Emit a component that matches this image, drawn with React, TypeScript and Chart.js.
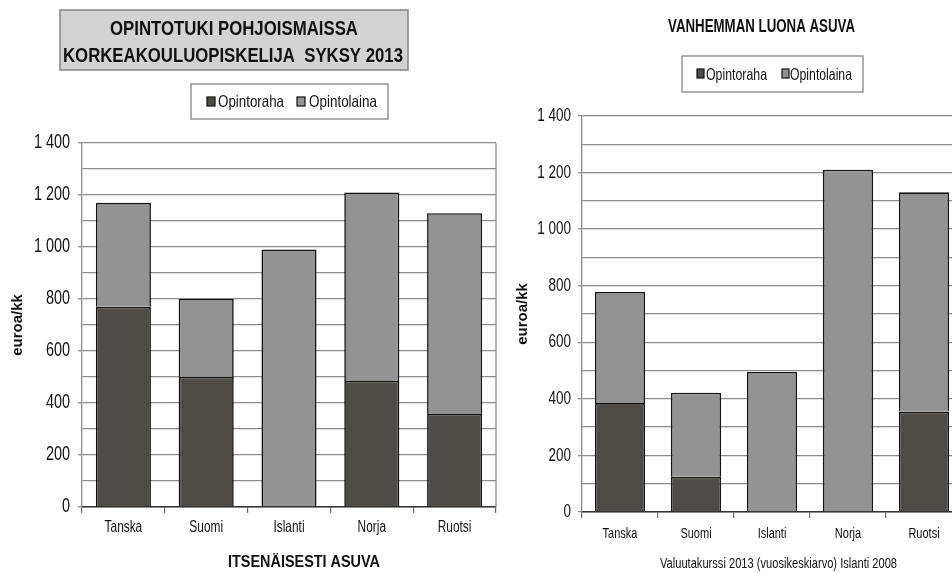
import React, { useEffect, useRef } from "react";
import { Chart, registerables } from "chart.js";
Chart.register(...registerables);

const categories = ["Tanska", "Suomi", "Islanti", "Norja", "Ruotsi"];
const seriesNames = ["Opintoraha", "Opintolaina"];
const itsenaisestiOpintoraha = [770, 500, null, 485, 358];
const itsenaisestiOpintolaina = [400, 300, 990, 725, 772];
const vanhemmanOpintoraha = [385, 125, null, null, 355];
const vanhemmanOpintolaina = [393, 297, 495, 1210, 775];
const yMax = 1400;
const yStep = 100;
const yLabelStep = 200;
const leftTitleLines = ["OPINTOTUKI POHJOISMAISSA", "KORKEAKOULUOPISKELIJA  SYKSY 2013"];
const leftXTitle = "ITSENÄISESTI ASUVA";
const rightTitle = "VANHEMMAN LUONA ASUVA";
const rightFootnote = "Valuutakurssi 2013 (vuosikeskiarvo) Islanti 2008";
const yTitle = "euroa/kk";

const DARK = "#4f4c47";
const LIGHT = "#939393";
const GRID = "#8c8c8c";
const INK = "#111111";
const SANS = '"Liberation Sans", Arial, sans-serif';

function fmt(v: number): string {
  if (v >= 1000) return Math.floor(v / 1000) + " " + String(v % 1000).padStart(3, "0");
  return String(v);
}

function squeezeText(ctx: CanvasRenderingContext2D, text: string, left: number, baseline: number, width: number, font: string) {
  ctx.save();
  ctx.font = font;
  const w = ctx.measureText(text).width;
  ctx.translate(left, baseline);
  ctx.scale(width / w, 1);
  ctx.textAlign = "left";
  ctx.textBaseline = "alphabetic";
  ctx.fillStyle = INK;
  ctx.fillText(text, 0, 0);
  ctx.restore();
}

// Draws the library's own tick labels in a condensed (horizontally squeezed) face.
function drawCondensedTicks(chart: any, o: any) {
  const ctx: CanvasRenderingContext2D = chart.ctx;
  const xs = chart.scales.x;
  const ys = chart.scales.y;
  ctx.save();
  ctx.fillStyle = INK;
  ctx.textBaseline = "middle";
  ctx.font = o.xFont + "px " + SANS;
  xs.ticks.forEach((t: any, i: number) => {
    const px = xs.getPixelForTick(i);
    ctx.save();
    ctx.translate(px, xs.top + o.xLabelOffset);
    ctx.scale(o.xSqueeze, 1);
    ctx.textAlign = "center";
    ctx.fillText(String(t.label), 0, 0);
    ctx.restore();
  });
  ctx.font = o.yFont + "px " + SANS;
  ys.ticks.forEach((t: any) => {
    if (!t.label) return;
    const py = ys.getPixelForValue(t.value);
    ctx.save();
    ctx.translate(ys.right - o.yLabelGap, py);
    ctx.scale(o.ySqueeze, 1);
    ctx.textAlign = "right";
    ctx.fillText(String(t.label), 0, 0);
    ctx.restore();
  });
  ctx.restore();
}

type LegendSpec = {
  box: [number, number, number, number];
  items: { mx: number; tx: number; tw: number }[];
  my: number;
  mw: number;
  mh: number;
  baseline: number;
  font: string;
};

function drawLegend(chart: any, spec: LegendSpec) {
  const ctx: CanvasRenderingContext2D = chart.ctx;
  const [x, y, w, h] = spec.box;
  ctx.save();
  ctx.fillStyle = "#ffffff";
  ctx.fillRect(x, y, w, h);
  ctx.strokeStyle = "#7a7a7a";
  ctx.lineWidth = 1.2;
  ctx.strokeRect(x, y, w, h);
  chart.data.datasets.forEach((ds: any, i: number) => {
    const it = spec.items[i];
    ctx.fillStyle = ds.backgroundColor;
    ctx.fillRect(it.mx, spec.my, spec.mw, spec.mh);
    ctx.strokeStyle = INK;
    ctx.lineWidth = 1.2;
    ctx.strokeRect(it.mx, spec.my, spec.mw, spec.mh);
    squeezeText(ctx, ds.label, it.tx, spec.baseline, it.tw, spec.font);
  });
  ctx.restore();
}

function drawRightBorder(chart: any) {
  const ctx: CanvasRenderingContext2D = chart.ctx;
  const a = chart.chartArea;
  ctx.save();
  ctx.strokeStyle = GRID;
  ctx.lineWidth = 1.3;
  ctx.beginPath();
  ctx.moveTo(a.right, a.top);
  ctx.lineTo(a.right, a.bottom);
  ctx.stroke();
  ctx.restore();
}

const leftDeco = {
  id: "leftDeco",
  afterDraw(chart: any) {
    const ctx: CanvasRenderingContext2D = chart.ctx;
    drawRightBorder(chart);
    drawCondensedTicks(chart, {
      xFont: 16.5,
      yFont: 19.5,
      xSqueeze: 0.72,
      ySqueeze: 0.74,
      xLabelOffset: 20,
      yLabelGap: 12,
    });
    ctx.save();
    ctx.fillStyle = "#d3d3d3";
    ctx.fillRect(60, 10, 348, 60);
    ctx.strokeStyle = "#858585";
    ctx.lineWidth = 1.5;
    ctx.strokeRect(60, 10, 348, 60);
    ctx.restore();
    squeezeText(ctx, leftTitleLines[0], 110, 35, 248, "bold 21px " + SANS);
    squeezeText(ctx, leftTitleLines[1], 63, 62, 340, "bold 21px " + SANS);
    drawLegend(chart, {
      box: [191, 84, 197, 35],
      items: [
        { mx: 207, tx: 218, tw: 66 },
        { mx: 297, tx: 309, tw: 68 },
      ],
      my: 97,
      mw: 8,
      mh: 9,
      baseline: 107,
      font: "16.5px " + SANS,
    });
    squeezeText(ctx, leftXTitle, 228, 567, 152, "bold 17px " + SANS);
  },
};

const rightDeco = {
  id: "rightDeco",
  afterDraw(chart: any) {
    const ctx: CanvasRenderingContext2D = chart.ctx;
    drawRightBorder(chart);
    drawCondensedTicks(chart, {
      xFont: 15.5,
      yFont: 18.5,
      xSqueeze: 0.71,
      ySqueeze: 0.73,
      xLabelOffset: 22,
      yLabelGap: 11,
    });
    squeezeText(ctx, rightTitle, 168, 32, 187, "bold 18px " + SANS);
    drawLegend(chart, {
      box: [182, 56, 181, 36],
      items: [
        { mx: 197, tx: 206, tw: 61 },
        { mx: 282, tx: 290, tw: 62 },
      ],
      my: 69,
      mw: 7,
      mh: 9,
      baseline: 80,
      font: "16.5px " + SANS,
    });
    squeezeText(ctx, rightFootnote, 160, 568, 237, "14.5px " + SANS);
  },
};

function makeConfig(o: any): any {
  return {
    type: "bar",
    data: {
      labels: categories,
      datasets: [
        {
          label: seriesNames[0],
          data: o.raha,
          backgroundColor: DARK,
          borderColor: INK,
          borderWidth: 1.6,
          barPercentage: o.barPct,
          categoryPercentage: 1,
        },
        {
          label: seriesNames[1],
          data: o.laina,
          backgroundColor: LIGHT,
          borderColor: INK,
          borderWidth: 1.6,
          barPercentage: o.barPct,
          categoryPercentage: 1,
        },
      ],
    },
    options: {
      responsive: false,
      animation: false,
      devicePixelRatio: 1,
      layout: { padding: o.pad },
      plugins: {
        legend: { display: false },
        tooltip: { enabled: false },
        title: { display: false },
      },
      scales: {
        x: {
          stacked: true,
          grid: {
            offset: true,
            drawOnChartArea: false,
            tickLength: 6,
            color: "#6a6a6a",
            lineWidth: 1.2,
          },
          border: { color: "#333333", width: 1.4 },
          ticks: {
            font: { family: SANS, size: 15 },
            color: "rgba(0,0,0,0)",
            padding: 4,
            maxRotation: 0,
            autoSkip: false,
          },
          afterFit: (s: any) => {
            s.height = o.xHeight;
          },
        },
        y: {
          stacked: true,
          min: 0,
          max: yMax,
          ticks: {
            stepSize: yStep,
            callback: (v: any) => (Number(v) % yLabelStep === 0 ? fmt(Number(v)) : ""),
            font: { family: SANS, size: 16 },
            color: "rgba(0,0,0,0)",
            padding: 8,
          },
          grid: {
            color: GRID,
            lineWidth: 1.3,
            tickLength: 4,
            tickColor: (c: any) =>
              c.tick && Number(c.tick.value) % yLabelStep === 0 ? GRID : "rgba(0,0,0,0)",
          },
          border: { color: GRID, width: 1.3 },
          title: {
            display: true,
            text: yTitle,
            font: { family: SANS, size: 15, weight: "bold" },
            color: INK,
            padding: { top: o.yTitlePad, bottom: 0 },
          },
          afterFit: (s: any) => {
            s.width = o.yWidth;
          },
        },
      },
    },
    plugins: [o.deco],
  };
}

export default function App() {
  const leftRef = useRef<HTMLCanvasElement | null>(null);
  const rightRef = useRef<HTMLCanvasElement | null>(null);

  useEffect(() => {
    const left = new Chart(
      leftRef.current as HTMLCanvasElement,
      makeConfig({
        raha: itsenaisestiOpintoraha,
        laina: itsenaisestiOpintolaina,
        barPct: 0.665,
        pad: { top: 143, right: 24, bottom: 0, left: 0 },
        xHeight: 66,
        yWidth: 82,
        yTitlePad: 9,
        deco: leftDeco,
      })
    );
    const right = new Chart(
      rightRef.current as HTMLCanvasElement,
      makeConfig({
        raha: vanhemmanOpintoraha,
        laina: vanhemmanOpintolaina,
        barPct: 0.66,
        pad: { top: 116, right: 18, bottom: 0, left: 0 },
        xHeight: 61,
        yWidth: 82,
        yTitlePad: 14,
        deco: rightDeco,
      })
    );
    return () => {
      left.destroy();
      right.destroy();
    };
  }, []);

  return (
    <div
      style={{
        position: "fixed",
        left: 0,
        top: 0,
        width: 952,
        height: 573,
        overflow: "hidden",
        background: "#ffffff",
      }}
    >
      <canvas
        ref={leftRef}
        width={520}
        height={573}
        style={{ position: "absolute", left: 0, top: 0, width: 520, height: 573 }}
      />
      <canvas
        ref={rightRef}
        width={480}
        height={573}
        style={{ position: "absolute", left: 500, top: 0, width: 480, height: 573 }}
      />
    </div>
  );
}
